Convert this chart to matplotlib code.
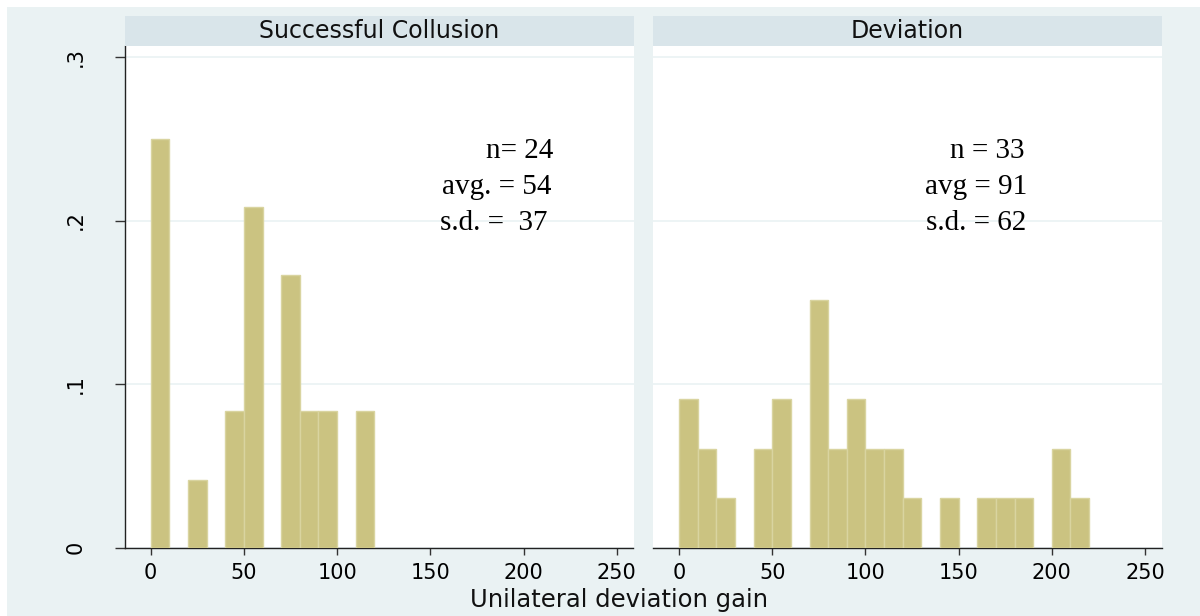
import numpy as np
import matplotlib.pyplot as plt
from matplotlib.patches import Rectangle

# histogram data, bin width 10 (left edges and counts per bin)
collusion_left = [0, 20, 40, 50, 70, 80, 90, 110]
collusion_count = [6, 1, 2, 5, 4, 2, 2, 2]
collusion_n = 24

deviation_left = [0, 10, 20, 40, 50, 70, 80, 90, 100, 110, 120, 140, 160, 170, 180, 200, 210]
deviation_count = [3, 2, 1, 2, 3, 5, 2, 3, 2, 2, 1, 1, 1, 1, 1, 2, 1]
deviation_n = 33

panel_titles = ["Successful Collusion", "Deviation"]
collusion_stats = ["n= 24", "avg. = 54", "s.d. =  37"]
deviation_stats = ["n = 33", "avg = 91", "s.d. = 62"]
x_ticks = [0, 50, 100, 150, 200, 250]
y_ticks = [0, 0.1, 0.2, 0.3]
y_ticklabels = ["0", ".1", ".2", ".3"]
x_label = "Unilateral deviation gain"

bg = '#EAF2F3'
strip_col = '#D9E5EA'
bar_col = '#CBC381'
bar_edge = '#D9D4A0'

W, H = 1200, 616
fig = plt.figure(figsize=(W / 100, H / 100), dpi=100, facecolor='white')
fig.patches.append(Rectangle((7 / W, 0), 1 - 7 / W, (H - 7) / H, transform=fig.transFigure,
                             facecolor=bg, edgecolor='none', zorder=-10))

ax_bottom = (H - 547.7) / H
ax_height = 502 / H
ax_width = 508.5 / W
lefts = [125 / W, 653.3 / W]
strip_h = 29.7 / H

panels = [(collusion_left, collusion_count, collusion_n, collusion_stats, [216, 215, 213]),
          (deviation_left, deviation_count, deviation_n, deviation_stats, [185.3, 187, 186.3])]

for i, (left_edges, counts, n, stats, xs) in enumerate(panels):
    ax = fig.add_axes([lefts[i], ax_bottom, ax_width, ax_height])
    ax.set_facecolor('white')
    frac = np.array(counts) / n
    ax.bar(left_edges, frac, width=10, align='edge', color=bar_col,
           edgecolor=bar_edge, linewidth=1, zorder=3)
    ax.set_xlim(-13.8, 259)
    ax.set_ylim(0, 0.3069)
    ax.set_yticks(y_ticks)
    ax.grid(axis='y', color=bg, linewidth=1.2, zorder=0)
    ax.set_xticks(x_ticks)
    ax.tick_params(axis='x', length=5, width=1, color='#333333', pad=6, labelsize=15)
    for s in ['top', 'right']:
        ax.spines[s].set_visible(False)
    ax.spines['bottom'].set_color('#222222')
    ax.spines['bottom'].set_linewidth(1)
    if i == 0:
        ax.set_yticklabels(y_ticklabels, rotation=90, va='center')
        ax.tick_params(axis='y', length=7, width=1, color='#333333', pad=21, labelsize=15)
        ax.spines['left'].set_color('#222222')
        ax.spines['left'].set_linewidth(1)
    else:
        ax.spines['left'].set_visible(False)
        ax.tick_params(axis='y', length=0, labelleft=False)
    ys = [0.238, 0.216, 0.194]
    for t, x, y in zip(stats, xs, ys):
        ax.text(x, y, t, ha='right', va='baseline', family='Liberation Serif',
                fontsize=21, color='black', zorder=5)

    # strip title above the panel
    sy = ax_bottom + ax_height
    fig.patches.append(Rectangle((lefts[i], sy), ax_width, strip_h, transform=fig.transFigure,
                                 facecolor=strip_col, edgecolor='none'))
    fig.text(lefts[i] + ax_width / 2, sy + strip_h / 2, panel_titles[i],
             ha='center', va='center', fontsize=17, color='#111111')

fig.text(619.5 / W, (H - 607) / H, x_label, ha='center', va='baseline',
         fontsize=17.5, color='#111111')

fig.savefig('out.png', dpi=100, facecolor=fig.get_facecolor())
